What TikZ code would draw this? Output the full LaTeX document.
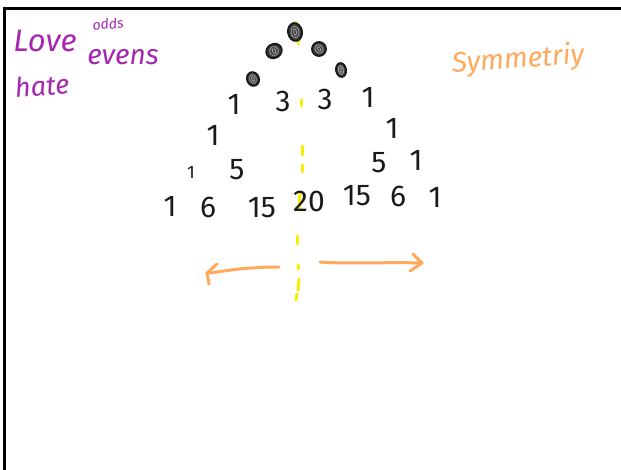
\documentclass[tikz,border=0pt]{standalone}
\usepackage{fontspec}
\setmainfont{Fira Sans}
\definecolor{ink}{HTML}{1A1A1A}
\definecolor{pen}{HTML}{A626B0}
\definecolor{peach}{HTML}{FFA95C}
\definecolor{marker}{HTML}{F5F000}
\begin{document}
\begin{tikzpicture}[x=1pt,y=-1pt,
  num/.style={font=\fontsize{30}{32}\selectfont, text=ink, inner sep=0pt},
  purp/.style={font=\fontsize{#1}{#1}\selectfont\itshape, text=pen, inner sep=0pt},
  purp/.default=30,
  scrib/.style={draw=ink, line width=1.8pt},
  dashseg/.style={draw=marker, line width=3pt, line cap=round},
  arrowpen/.style={draw=peach, line width=3pt, line cap=round, line join=round}]
\useasboundingbox (0,0) rectangle (621,470);
\fill[white] (0,0) rectangle (621,470);
% board frame
\draw[line width=2.2pt] (621,8.5) -- (4.5,8.5) -- (4.5,470);

% notes in the corners
\node[purp=31] (love) at (45,41) {Love};
\node[purp=14, rotate=6] (odds) at (108,24) {odds};
\node[purp=27, rotate=4] (hate) at (42,86) {hate};
\node[purp=28] (evens) at (123,57) {evens};
\node[font=\fontsize{28}{30}\selectfont\itshape, text=peach, inner sep=0pt, rotate=4] (sym) at (518,60) {Symmetriy};

% axis of symmetry
\foreach \ya/\yb/\xa/\xb in {22/29/295/296, 33/35/297/297, 41/44/298/298, 100/106/301/301,
  146/155/302/302, 165/172/302/302, 192/210/300/299, 236/244/297/297, 265/269/298/298,
  279/290/299/298, 294/300/297/296}
  \draw[dashseg] (\xa,\ya) -- (\xb,\yb);

% scribbled-out entries
\foreach \n/\cx/\cy/\rx/\ry/\ang in {a/295/32/7/9/10, b/274/51/8/7/30, c/319/49/7/7/40,
  d/253/79/6/7/20, e/341/70/5/7/10}{
  \coordinate (\n) at (\cx,\cy);
  \fill[ink!85, rotate around={\ang:(\n)}] (\n) ellipse[x radius=\rx, y radius=\ry];
  \draw[scrib, rotate around={\ang:(\n)}] (\n) ellipse[x radius=\rx, y radius=\ry];
  \draw[draw=white!60!ink, line width=0.8pt, rotate around={\ang:(\n)}] (\n) ellipse[x radius=0.55*\rx, y radius=0.65*\ry];
  \draw[draw=white!60!ink, line width=0.8pt, rotate around={\ang:(\n)}] (\n) ellipse[x radius=0.2*\rx, y radius=0.35*\ry];
}

% row 3
\node[num] (r3a) at (234,104) {1};
\node[num] (r3b) at (283,101) {3};
\node[num] (r3c) at (325,99) {3};
\node[num] (r3d) at (368,97) {1};
% row 4
\node[num] (r4a) at (213,135) {1};
\node[num] (r4f) at (392,128) {1};
% row 5
\node[num, font=\fontsize{18}{20}\selectfont] (r5a) at (191,172) {1};
\node[num] (r5b) at (237,170) {5};
\node[num] (r5e) at (379,163) {5};
\node[num] (r5f) at (416,160) {1};
% row 6
\node[num] (r6a) at (170,206) {1};
\node[num] (r6b) at (208,207) {6};
\node[num] (r6c) at (262,208) {15};
\node[num] (r6d) at (309,201) {20};
\node[num] (r6e) at (357,196) {15};
\node[num] (r6f) at (398,196) {6};
\node[num] (r6g) at (435,197) {1};

% arrows pointing both ways from the axis
\coordinate (la) at (279,267);
\coordinate (lb) at (210,273);
\coordinate (ra) at (320,262);
\coordinate (rb) at (422,263);
\draw[arrowpen] (la) .. controls (250,267) and (230,270) .. (lb);
\draw[arrowpen] (217,264) -- (207,273) -- (209,284);
\draw[arrowpen] (ra) .. controls (340,264) and (390,262) .. (rb);
\draw[arrowpen] (413,254) -- (422,263) -- (410,271);
\end{tikzpicture}
\end{document}
